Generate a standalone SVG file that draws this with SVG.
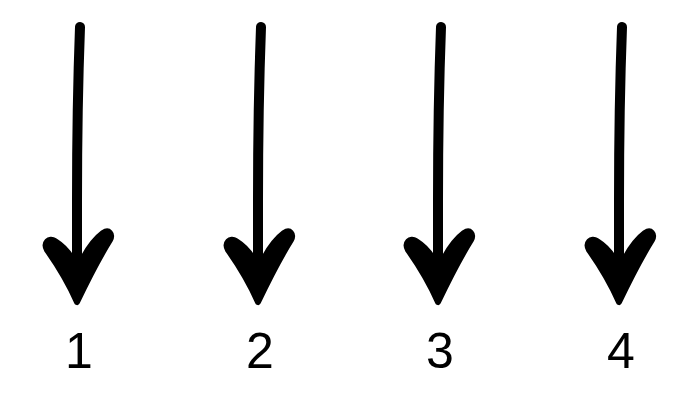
<svg xmlns="http://www.w3.org/2000/svg" xmlns:xlink="http://www.w3.org/1999/xlink" width="700" height="400" viewBox="0 0 700 400">
  <style>
    .shaft { fill: none; stroke: #000; stroke-width: 10; stroke-linecap: round; stroke-linejoin: round; }
    .head { fill: #000; stroke: #000; stroke-width: 6; stroke-linejoin: round; }
    .label { font-family: "Liberation Sans", Arial, sans-serif; font-size: 50px; fill: #000; text-anchor: middle; }
  </style>
  <defs>
    <g id="arrow">
      <path class="shaft" d="M 2,27 C 0,80 -1,150 -1,200 S -1,260 -1,285"/>
      <path class="head" d="M -1,302 C -9,284 -21,264 -31,250 C -35,243 -29,237 -23,241 C -15,246 -8,254 -4,262 L 3,262 C 9,250 17,239 25,233 C 31,229 35,234 32,240 C 22,256 10,279 -1,302 Z"/>
    </g>
  </defs>
  <rect width="700" height="400" fill="#fff"/>
  <g id="connectors">
    <use xlink:href="#arrow" href="#arrow" transform="translate(78,0)"/>
    <use xlink:href="#arrow" href="#arrow" transform="translate(259,0)"/>
    <use xlink:href="#arrow" href="#arrow" transform="translate(439,0)"/>
    <use xlink:href="#arrow" href="#arrow" transform="translate(620,0)"/>
  </g>
  <g id="node-1"><text class="label" x="79" y="368">1</text></g>
  <g id="node-2"><text class="label" x="260" y="368">2</text></g>
  <g id="node-3"><text class="label" x="440" y="368">3</text></g>
  <g id="node-4"><text class="label" x="621" y="368">4</text></g>
</svg>
